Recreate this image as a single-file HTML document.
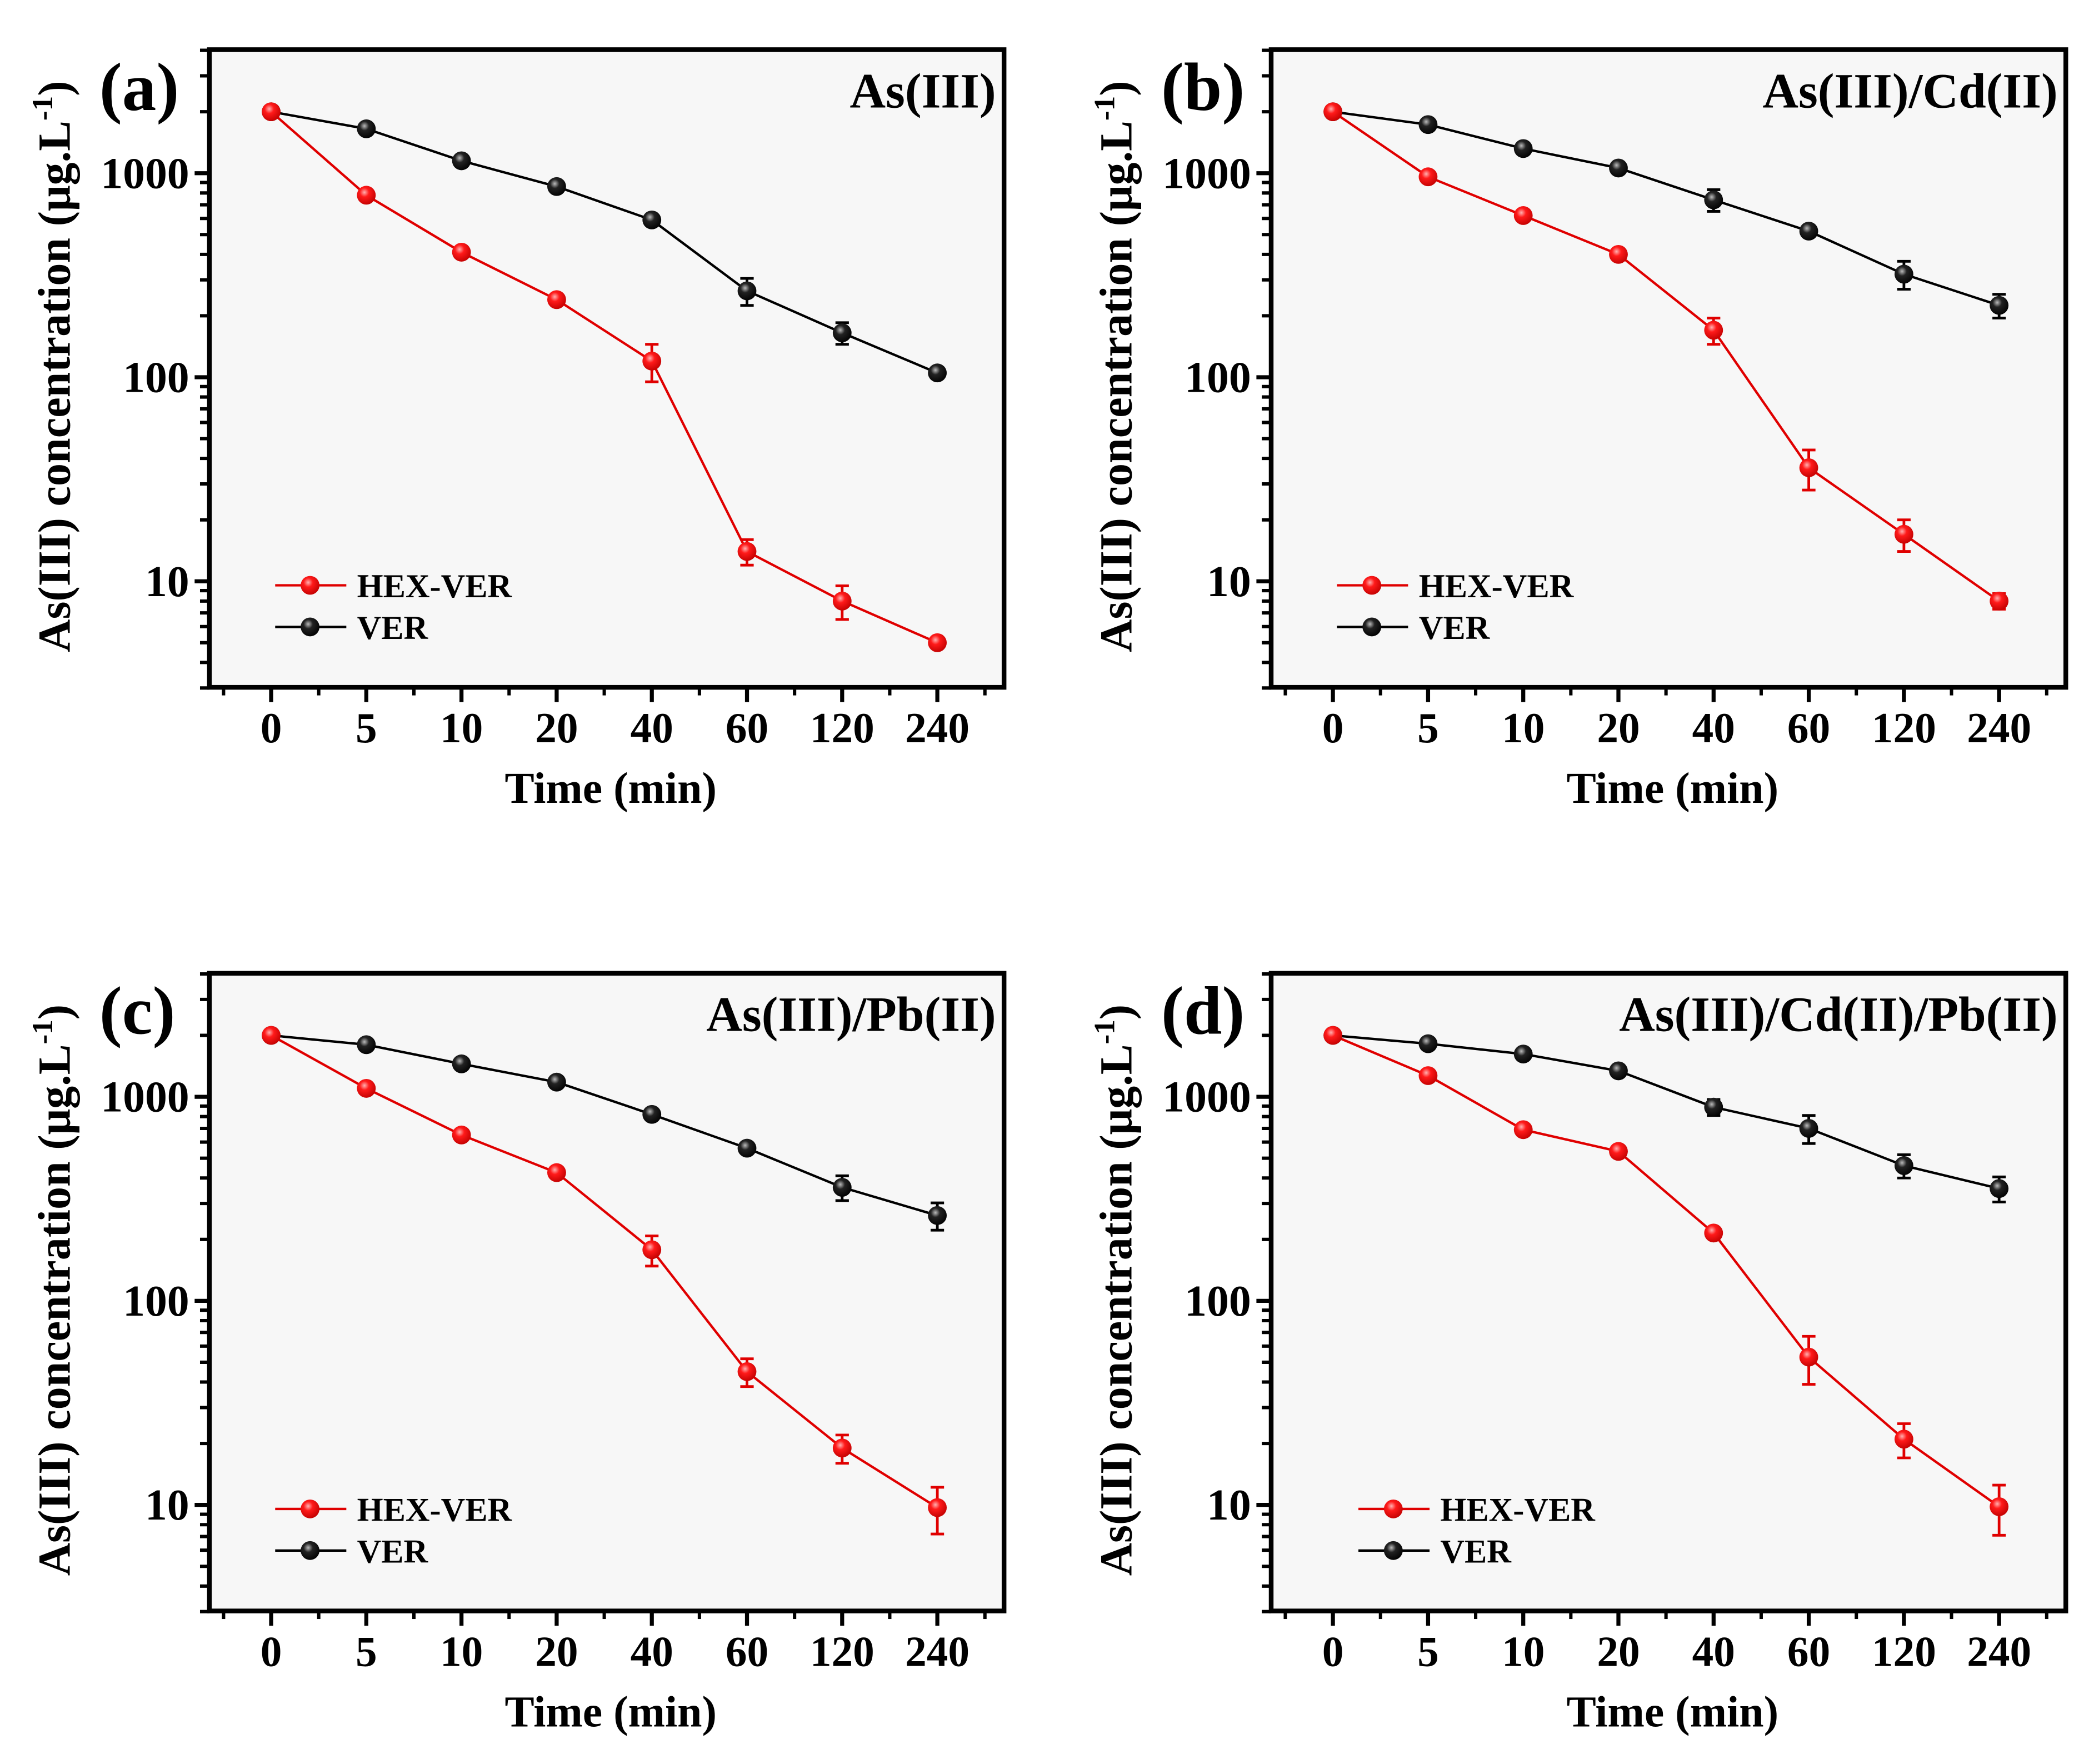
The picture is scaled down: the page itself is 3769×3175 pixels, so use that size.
<!DOCTYPE html>
<html><head><meta charset="utf-8"><style>
html,body{margin:0;padding:0;background:#fff;}
svg{display:block;}
text{font-family:"Liberation Serif",serif;font-weight:bold;fill:#000;}
</style></head><body>
<svg id="fig" width="3769" height="3175" viewBox="0 0 1560 1314" preserveAspectRatio="none" xmlns="http://www.w3.org/2000/svg">
<defs>
<radialGradient id="gRed" cx="0.4" cy="0.35" r="0.7"><stop offset="0" stop-color="#ffb0b0"/><stop offset="0.35" stop-color="#ff1a1a"/><stop offset="1" stop-color="#c00000"/></radialGradient>
<radialGradient id="gBlk" cx="0.4" cy="0.35" r="0.7"><stop offset="0" stop-color="#bbbbbb"/><stop offset="0.35" stop-color="#222"/><stop offset="1" stop-color="#000"/></radialGradient>
</defs>
</svg>
<script>
const categories = ["0","5","10","20","40","60","120","240"];
const yTicks = [10,100,1000];
const yTickLabels = ["10","100","1000"];
const panelLabels = ["(a)","(b)","(c)","(d)"];
const panelTitles = ["As(III)","As(III)/Cd(II)","As(III)/Pb(II)","As(III)/Cd(II)/Pb(II)"];
const hexA = [2000,780,410,240,120,14,8,5];
const hexAErr = [0,0,0,0,25,2,1.5,0];
const verA = [2000,1650,1150,860,590,265,165,105];
const verAErr = [0,0,0,0,0,40,20,0];
const hexB = [2000,960,620,400,170,36,17,8];
const hexBErr = [0,0,0,0,25,8,3,0.7];
const verB = [2000,1730,1320,1060,740,520,320,225];
const verBErr = [0,0,0,0,90,0,50,30];
const hexC = [2000,1100,650,425,178,45,19,9.7];
const hexCErr = [0,0,0,0,30,7,3,2.5];
const verC = [2000,1800,1450,1180,820,560,360,262];
const verCErr = [0,0,0,0,0,0,50,40];
const hexD = [2000,1270,690,540,215,53,21,9.8];
const hexDErr = [0,0,0,0,0,14,4,2.7];
const verD = [2000,1820,1620,1340,890,700,460,355];
const verDErr = [0,0,0,0,80,110,60,50];

const NS="http://www.w3.org/2000/svg";
const svg=document.getElementById('fig');
function mk(tag,attrs,parent){const e=document.createElementNS(NS,tag);for(const k in attrs)e.setAttribute(k,attrs[k]);(parent||svg).appendChild(e);return e;}

const panels=[
 {dx:0,dy:0,hex:hexA,hexE:hexAErr,ver:verA,verE:verAErr,legX:205},
 {dx:791,dy:0,hex:hexB,hexE:hexBErr,ver:verB,verE:verBErr,legX:996},
 {dx:0,dy:688,hex:hexC,hexE:hexCErr,ver:verC,verE:verCErr,legX:205},
 {dx:791,dy:688,hex:hexD,hexE:hexDErr,ver:verD,verE:verDErr,legX:1012},
];

panels.forEach((p,pi)=>{
  const g=mk('g',{});
  
  
  const L=156+p.dx,R=748+p.dx,T=37+p.dy,B=512+p.dy;
  const xs=i=>202+p.dx+i*70.9;
  const ys=v=>129+p.dy-152*Math.log10(v/1000);
  const bg=mk('rect',{x:L,y:T,width:R-L,height:B-T,fill:'#f7f7f7'},g);
  
  
  for(let d=1;d<=1000;d*=10){for(let m=1;m<=9;m++){const v=d*m;if(v<3||v>4000)continue;const y=ys(v);const major=(m===1);
    mk('line',{x1:L,x2:L-(major?11:7),y1:y,y2:y,stroke:'#000','stroke-width':major?3:2.5},g);}}
  yTicks.forEach((v,i)=>{const t=mk('text',{x:L-15,y:ys(v)+11,'text-anchor':'end','font-size':33},g);t.textContent=yTickLabels[i];
    });
  categories.forEach((c,i)=>{const x=xs(i);mk('line',{x1:x,x2:x,y1:B,y2:B+11,stroke:'#000','stroke-width':3},g);
    const t=mk('text',{x:x,y:B+41,'text-anchor':'middle','font-size':32},g);t.textContent=c;
    
    if(i<categories.length-1)mk('line',{x1:x+35.45,x2:x+35.45,y1:B,y2:B+6,stroke:'#000','stroke-width':2.5},g);});
  mk('line',{x1:xs(-1)+35.45,x2:xs(-1)+35.45,y1:B,y2:B+6,stroke:'#000','stroke-width':2.5},g);
  mk('line',{x1:xs(7)+35.45,x2:xs(7)+35.45,y1:B,y2:B+6,stroke:'#000','stroke-width':2.5},g);
  const fr=mk('rect',{x:L,y:T,width:R-L,height:B-T,fill:'none',stroke:'#000','stroke-width':3.5},g);
  
  [[p.ver,p.verE,'#000','url(#gBlk)','ver'],[p.hex,p.hexE,'#e00000','url(#gRed)','hex-ver']].forEach(([vals,errs,col,fill,nm])=>{
    const pl=mk('polyline',{points:vals.map((v,i)=>xs(i)+','+ys(v)).join(' '),fill:'none',stroke:col,'stroke-width':1.8},g);
    
    vals.forEach((v,i)=>{const x=xs(i);
      if(errs[i]>0){const y1=ys(v+errs[i]),y2=ys(Math.max(v-errs[i],0.1));
        mk('line',{x1:x,x2:x,y1:y1,y2:y2,stroke:col,'stroke-width':2},g);
        mk('line',{x1:x-5,x2:x+5,y1:y1,y2:y1,stroke:col,'stroke-width':2},g);
        mk('line',{x1:x-5,x2:x+5,y1:y2,y2:y2,stroke:col,'stroke-width':2},g);}
      const c=mk('circle',{cx:x,cy:ys(v),r:7,fill:fill},g);
      });
  });
  [['HEX-VER','#e00000','url(#gRed)',436],['VER','#000','url(#gBlk)',467]].forEach(([lab,col,fill,ly])=>{
    const y=ly+p.dy;const lg=mk('g',{},g);
    
    mk('line',{x1:p.legX,x2:p.legX+53,y1:y,y2:y,stroke:col,'stroke-width':1.8},lg);
    mk('circle',{cx:p.legX+26,cy:y,r:7,fill:fill},lg);
    const t=mk('text',{x:p.legX+61,y:y+9,'font-size':25},lg);t.textContent=lab;});
  const pl=mk('text',{x:L-82,y:T+45,'font-size':51},g);pl.textContent=panelLabels[pi];
  
  const ti=mk('text',{x:R-6,y:T+43,'text-anchor':'end','font-size':37},g);ti.textContent=panelTitles[pi];
  
  const xt=mk('text',{x:455+p.dx,y:598+p.dy,'text-anchor':'middle','font-size':33},g);xt.textContent='Time (min)';
  
  const yt=mk('text',{x:0,y:0,'text-anchor':'middle','font-size':34,transform:`translate(${52+p.dx},${273+p.dy}) rotate(-90)`},g);
  yt.innerHTML='As(III) concentration (μg.L<tspan dy="-13" font-size="22">-1</tspan><tspan dy="13">)</tspan>';
  
});
</script>
</body></html>
